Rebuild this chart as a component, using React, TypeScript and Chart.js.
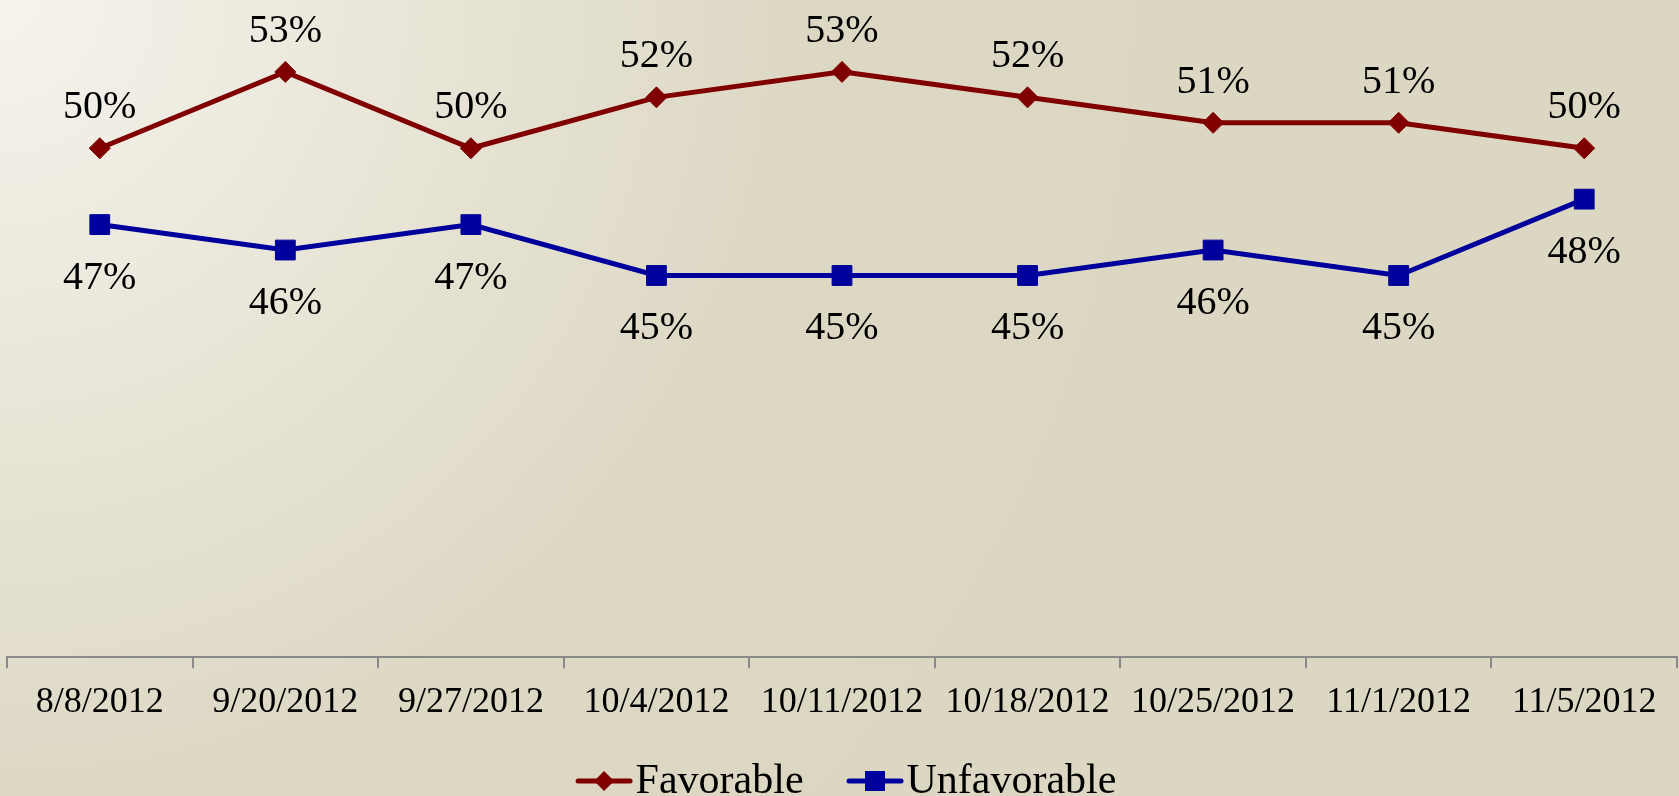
import React, { useEffect, useRef } from 'react';
import { Chart, registerables } from 'chart.js';

Chart.register(...registerables);

const categories = ['8/8/2012', '9/20/2012', '9/27/2012', '10/4/2012', '10/11/2012', '10/18/2012', '10/25/2012', '11/1/2012', '11/5/2012'];
const favorable = [50, 53, 50, 52, 53, 52, 51, 51, 50];
const unfavorable = [47, 46, 47, 45, 45, 45, 46, 45, 48];
const seriesNames = ['Favorable', 'Unfavorable'];
const yMin = 30;
const yMax = 55;

const FONT = '"Liberation Serif", "Times New Roman", serif';

const bgPlugin = {
  id: 'bgGradient',
  beforeDraw(chart: any) {
    const { ctx, width, height } = chart;
    ctx.save();
    const g = ctx.createRadialGradient(0, 0, 0, 0, 0, 1150);
    g.addColorStop(0, '#f5f3ec');
    g.addColorStop(0.7, '#ddd8c4');
    g.addColorStop(1, '#dcd7c2');
    ctx.fillStyle = g;
    ctx.fillRect(0, 0, width, height);
    ctx.restore();
  },
};

const dataLabelPlugin = {
  id: 'dataLabels',
  afterDatasetsDraw(chart: any) {
    const ctx = chart.ctx;
    ctx.save();
    ctx.font = `40px ${FONT}`;
    ctx.fillStyle = '#000000';
    ctx.textAlign = 'center';
    ctx.textBaseline = 'alphabetic';
    chart.data.datasets.forEach((ds: any, i: number) => {
      const meta = chart.getDatasetMeta(i);
      meta.data.forEach((pt: any, j: number) => {
        const v = ds.data[j];
        const y = i === 0 ? pt.y - 30 : pt.y + 64;
        ctx.fillText(`${v}%`, pt.x, y);
      });
    });
    ctx.restore();
  },
};

const legendPlugin = {
  id: 'customLegend',
  afterDraw(chart: any) {
    const ctx = chart.ctx;
    ctx.save();
    ctx.font = `42px ${FONT}`;
    const lineW = 57;
    const gapText = 3;
    const gapItem = 43;
    const items = chart.data.datasets.map((ds: any) => ({
      text: ds.label,
      color: ds.borderColor,
      style: ds.pointStyle,
    }));
    const widths = items.map((it: any) => lineW + gapText + ctx.measureText(it.text).width);
    const total = widths.reduce((a: number, b: number) => a + b, 0) + gapItem * (items.length - 1);
    let x = 846 - total / 2;
    const lineY = 781;
    const baseY = 793;
    items.forEach((it: any, i: number) => {
      ctx.strokeStyle = it.color;
      ctx.fillStyle = it.color;
      ctx.lineWidth = 5;
      ctx.lineCap = 'round';
      ctx.beginPath();
      ctx.moveTo(x + 2.5, lineY);
      ctx.lineTo(x + lineW - 2.5, lineY);
      ctx.stroke();
      const cx = x + lineW / 2;
      ctx.beginPath();
      if (it.style === 'rectRot') {
        const r = 10;
        ctx.moveTo(cx - r, lineY);
        ctx.lineTo(cx, lineY - r);
        ctx.lineTo(cx + r, lineY);
        ctx.lineTo(cx, lineY + r);
        ctx.closePath();
      } else {
        const h = 10;
        ctx.rect(cx - h, lineY - h, 2 * h, 2 * h);
      }
      ctx.fill();
      ctx.fillStyle = '#000000';
      ctx.textAlign = 'left';
      ctx.textBaseline = 'alphabetic';
      ctx.fillText(it.text, x + lineW + gapText, baseY);
      x += widths[i] + gapItem;
    });
    ctx.restore();
  },
};

export default function App() {
  const canvasRef = useRef<HTMLCanvasElement | null>(null);

  useEffect(() => {
    document.body.style.margin = '0';
    const canvas = canvasRef.current;
    if (!canvas) return;
    const chart = new Chart(canvas, {
      type: 'line',
      data: {
        labels: categories,
        datasets: [
          {
            label: seriesNames[0],
            data: favorable,
            borderColor: '#800000',
            backgroundColor: '#800000',
            borderWidth: 5,
            pointStyle: 'rectRot',
            pointRadius: 10.5,
            pointBorderWidth: 1,
            pointBackgroundColor: '#800000',
            pointBorderColor: '#800000',
            tension: 0,
          },
          {
            label: seriesNames[1],
            data: unfavorable,
            borderColor: '#00009c',
            backgroundColor: '#00009c',
            borderWidth: 5,
            pointStyle: 'rect',
            pointRadius: 14,
            pointBorderWidth: 1,
            pointBackgroundColor: '#00009c',
            pointBorderColor: '#00009c',
            tension: 0,
          },
        ],
      },
      options: {
        responsive: false,
        animation: false,
        devicePixelRatio: 1,
        layout: { autoPadding: false, padding: { left: 7, right: 2, top: 21, bottom: 58.6 } },
        plugins: {
          legend: { display: false },
          tooltip: { enabled: false },
        },
        scales: {
          x: {
            type: 'category',
            offset: true,
            afterFit: (scale: any) => {
              scale.paddingLeft = 0;
              scale.paddingRight = 0;
            },
            grid: {
              display: true,
              drawOnChartArea: false,
              drawTicks: true,
              tickLength: 11,
              color: '#898989',
              lineWidth: 2,
              offset: true,
            },
            border: { display: true, color: '#898989', width: 2 },
            ticks: {
              color: '#000000',
              font: { family: FONT, size: 36 },
              padding: 13,
              maxRotation: 0,
              autoSkip: false,
            },
          },
          y: {
            display: false,
            min: yMin,
            max: yMax,
          },
        },
      },
      plugins: [bgPlugin, dataLabelPlugin, legendPlugin],
    });
    return () => chart.destroy();
  }, []);

  return (
    <div style={{ width: 1679, height: 796 }}>
      <canvas ref={canvasRef} width={1679} height={796} style={{ display: 'block' }} />
    </div>
  );
}
